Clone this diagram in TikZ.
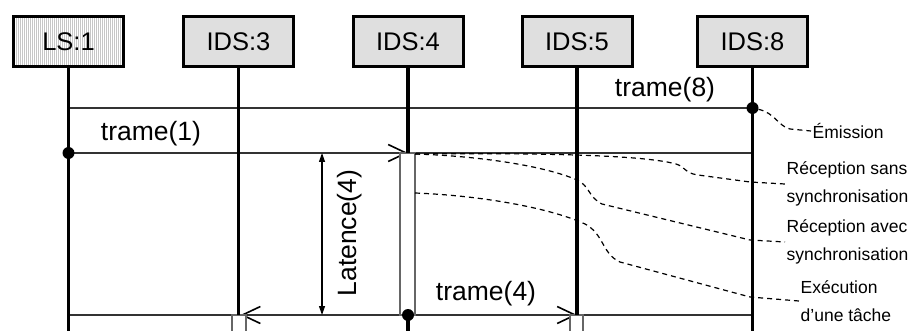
\documentclass[tikz,border=0pt]{standalone}
\usepackage{fontspec}
\setmainfont{Liberation Sans}
\usetikzlibrary{arrows.meta}

\tikzset{
  head/.style={draw, line width=3pt, fill=gray!25, minimum width=110pt,
    minimum height=50pt, inner sep=0pt, font=\fontsize{25.5}{30}\selectfont},
  hatched/.style={fill=white, path picture={
      \foreach \i in {-60,-58,...,60}
        \draw[gray!45, line width=0.9pt]
          ([xshift=\i pt]path picture bounding box.south) --
          ([xshift=\i pt]path picture bounding box.north);}},
  life/.style={line width=3.4pt},
  act/.style={draw=black!60, line width=1.4pt, fill=white},
  msg/.style={draw=black!80, line width=1.3pt},
  barb/.style={-{Straight Barb[length=18pt, width=17pt, line width=1.6pt, black]}},
  span/.style={line width=1.2pt, {Triangle[length=9pt, width=6pt]}-{Triangle[length=9pt, width=6pt]}},
  dot/.style={circle, fill=black, inner sep=0pt, minimum size=12pt},
  lbl/.style={inner sep=0pt, font=\fontsize{26.5}{30}\selectfont},
  note/.style={line width=1.2pt, dash pattern=on 5pt off 4pt},
  notetext/.style={inner sep=1.5pt, anchor=west, align=left,
    font=\fontsize{17.5}{28}\selectfont}
}

\begin{document}
\begin{tikzpicture}[x=1pt, y=-1pt]
\useasboundingbox (0,0) rectangle (912,331);

% object heads
\node[head, hatched] (ls1)  at (68.5,41.5)  {LS:1};
\node[head]          (ids3) at (238.5,41.5) {IDS:3};
\node[head]          (ids4) at (408,41.5)   {IDS:4};
\node[head]          (ids5) at (577,41.5)   {IDS:5};
\node[head]          (ids8) at (752.5,41.5) {IDS:8};

% message levels
\coordinate (m0) at (0,108);
\coordinate (m1) at (0,153);
\coordinate (m3) at (0,315);
\coordinate (bot) at (0,331);

% broadcast frames
\draw[msg] (ls1 |- m0) -- (ids8 |- m0);
\draw[msg, barb] (ls1 |- m1) -- (ids4 |- m1);
\draw[msg] (ids4 |- m1) -- (ids8 |- m1);
\draw[msg] (ls1 |- m3) -- (ids8 |- m3);
\draw[msg, barb] (ids4 |- m3) -- ([xshift=2pt]ids3 |- m3);
\draw[msg, barb] (ids4 |- m3) -- (ids5 |- m3);

% activation bars
\draw[act] (400,153) rectangle (415,315);
\draw[act] (232,315) rectangle (246,334);
\draw[act] (570,315) rectangle (583,334);

% lifelines
\draw[life] (ls1.south) -- (ls1 |- bot);
\draw[life] (ids3.south) -- (ids3 |- m3);
\draw[life] (ids4.south) -- (ids4 |- m1);
\draw[life] (ids4 |- m3) -- (ids4 |- bot);
\draw[life] (ids5.south) -- (ids5 |- m3);
\draw[life] (ids8.south) -- (ids8 |- bot);

% emission points
\node[dot] (e8) at (ids8 |- m0) {};
\node[dot] (e1) at (ls1 |- m1) {};
\node[dot] (e4) at (ids4 |- m3) {};

% latency
\coordinate (lt) at (322,153);
\coordinate (lb) at (322,315);
\draw[span] (lt) -- (lb);
\node[lbl, rotate=90] (lat) at (350,233) {Latence(4)};

% frame labels
\node[lbl] (t8) at (665,90)  {trame(8)};
\node[lbl] (t1) at (151,134) {trame(1)};
\node[lbl] (t4) at (486,294) {trame(4)};

% legend
\node[notetext] (em) at (811,131) {Émission};
\node[notetext] (rs) at (785,184) {Réception sans\\synchronisation};
\node[notetext] (ra) at (785,242) {Réception avec\\synchronisation};
\node[notetext] (ex) at (799,301) {Exécution\\d’une tâche};

\coordinate (rcv) at (415,154);
\coordinate (exe) at (415,193);

\draw[note] (e8) .. controls (775,113) and (778,126) .. (790,129) -- (em.west);
\draw[note] (rcv) .. controls (520,153) and (640,154) .. (676,164)
  .. controls (686,167) and (684,173) .. (698,175) -- (750,182) -- (rs.west);
\draw[note] (rcv) .. controls (480,156) and (545,166) .. (577,180)
  .. controls (590,186) and (588,197) .. (602,204) -- (750,240) -- (ra.west);
\draw[note] (exe) .. controls (490,196) and (555,210) .. (585,224)
  .. controls (604,234) and (602,254) .. (620,262) -- (750,297) -- (ex.west);
\end{tikzpicture}
\end{document}
